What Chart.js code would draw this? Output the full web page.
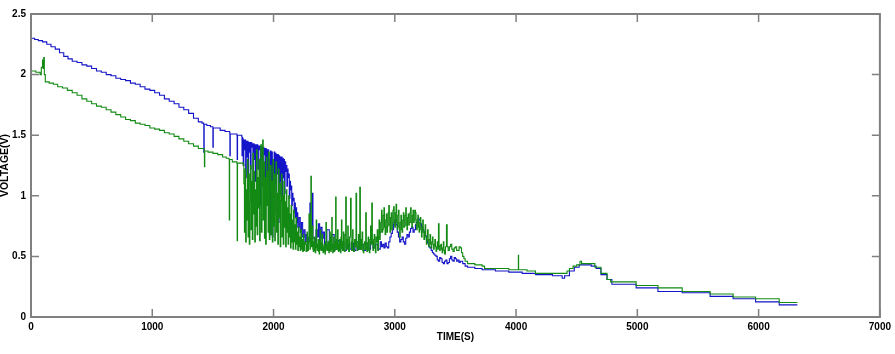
<!DOCTYPE html>
<html><head><meta charset="utf-8">
<script src="https://cdn.jsdelivr.net/npm/chart.js@4.4.1/dist/chart.umd.min.js"></script>
<style>html,body{margin:0;padding:0;background:#fff}</style>
</head><body>
<canvas id="c" width="895" height="354"></canvas>
<script>
const xTicks = [0,1000,2000,3000,4000,5000,6000,7000];
const yTicks = [0,0.5,1,1.5,2,2.5];
const xTitle = 'TIME(S)';
const yTitle = 'VOLTAGE(V)';

// Blue series [time s, voltage V]
const blueSeries = [
[0,2.30],[30,2.29],[60,2.28],[95,2.27],[130,2.25],[165,2.23],[200,2.21],[235,2.18],[270,2.15],[305,2.13],
[340,2.11],[380,2.10],[420,2.08],[460,2.07],[500,2.05],[540,2.03],[580,2.02],[620,2.00],[660,1.99],[700,1.97],
[740,1.96],[780,1.95],[820,1.93],[860,1.92],[900,1.90],[940,1.88],[980,1.87],[1020,1.85],[1060,1.83],[1100,1.80],
[1140,1.78],[1180,1.76],[1220,1.73],[1260,1.71],[1300,1.68],[1340,1.64],[1380,1.61],[1410,1.60],
[1424,1.59],[1425,1.36],[1428,1.59],[1450,1.58],[1480,1.57],[1498,1.57],[1500,1.40],[1503,1.56],[1520,1.56],
[1560,1.54],[1600,1.53],[1638,1.52],[1640,1.33],[1643,1.51],[1660,1.51],[1698,1.50],[1700,1.30],[1703,1.50],
[1720,1.50],[1738,1.49],[1740,1.33],[1743,1.48],
[1745,1.47],[1750,1.25],[1755,1.46],[1760,1.38],[1765,1.46],[1770,1.15],[1775,1.45],[1780,1.32],[1785,1.45],[1790,1.02],
[1795,1.44],[1800,1.36],[1805,1.44],[1810,1.22],[1815,1.44],[1820,1.40],[1825,1.43],[1830,0.96],[1835,1.43],[1840,1.30],
[1845,1.42],[1850,1.12],[1855,1.42],[1860,1.35],[1865,1.42],[1870,1.22],[1875,1.41],[1880,1.38],[1885,1.41],[1890,0.92],
[1895,1.40],[1900,1.30],[1905,1.40],[1910,1.08],[1915,1.40],[1920,1.34],[1925,1.39],[1930,0.82],[1935,1.39],[1940,1.20],
[1945,1.38],[1950,1.02],[1955,1.38],[1960,0.72],[1965,1.30],[1970,0.68],[1975,1.37],[1980,0.75],[1985,1.36],[1990,0.66],
[1995,1.30],[2000,0.88],[2005,1.36],[2010,1.10],[2015,1.35],[2020,0.85],[2025,1.34],[2030,1.18],[2035,1.34],[2040,0.78],
[2045,1.33],[2050,1.00],[2055,1.32],[2060,1.12],[2065,1.32],[2070,0.95],[2075,1.31],[2080,1.15],[2085,1.30],[2090,1.02],
[2095,1.28],[2100,1.20],[2105,1.25],[2110,1.08],[2115,1.22],[2120,1.15],[2125,1.18],[2130,0.98],[2135,1.12],[2140,1.05],
[2145,1.08],[2150,0.92],[2155,1.02],[2160,0.96],[2165,0.98],[2170,0.86],[2175,0.94],[2180,0.82],[2185,0.90],[2190,0.78],
[2195,0.86],[2200,0.74],[2210,0.82],[2220,0.70],[2230,0.78],[2240,0.66],[2250,0.72],[2260,0.62],[2270,0.68],[2280,0.60],
[2290,0.66],[2300,0.94],[2305,0.62],[2320,1.02],[2325,0.65],[2340,0.60],[2350,0.72],[2360,0.66],[2370,0.77],[2380,0.58],
[2390,0.74],[2400,0.65],[2410,0.70],[2420,0.57],[2440,0.72],[2460,0.60],[2480,0.68],[2500,0.56],[2520,0.63],[2540,0.57],
[2560,0.62],[2580,0.55],[2600,0.60],[2620,0.56],[2640,0.61],[2660,0.55],[2680,0.62],[2700,0.56],[2720,0.60],[2740,0.55],
[2760,0.61],[2780,0.56],[2800,0.62],[2820,0.57],[2840,0.60],[2860,0.56],[2880,0.62],[2890,0.58],[2900,0.60],[2910,0.57],
[2920,0.61],[2930,0.58],[2940,0.57],[2950,0.62],[2960,0.66],[2970,0.69],[2980,0.72],[2990,0.77],[3000,0.80],[3010,0.76],
[3020,0.70],[3030,0.66],[3040,0.62],[3050,0.64],[3060,0.66],[3070,0.62],[3080,0.60],[3090,0.65],[3100,0.68],[3110,0.66],
[3120,0.70],[3130,0.73],[3140,0.74],[3150,0.70],[3160,0.72],[3170,0.76],[3180,0.78],[3190,0.81],[3200,0.80],[3210,0.77],
[3220,0.74],[3230,0.72],[3240,0.70],[3250,0.67],[3260,0.64],[3270,0.61],[3280,0.58],[3290,0.57],[3300,0.55],[3310,0.53],
[3320,0.52],[3330,0.51],[3340,0.50],[3350,0.47],[3360,0.46],[3370,0.49],[3380,0.48],[3390,0.45],[3400,0.44],[3410,0.46],
[3420,0.47],[3430,0.44],[3440,0.45],[3450,0.48],[3460,0.50],[3470,0.47],[3480,0.46],[3490,0.49],[3500,0.48],[3510,0.46],
[3520,0.47],[3530,0.45],[3540,0.46],[3560,0.44],[3580,0.42],[3600,0.41],[3660,0.40],[3720,0.39],[3830,0.38],[3940,0.37],
[4050,0.36],[4160,0.35],[4300,0.34],[4380,0.32],[4400,0.34],[4440,0.38],[4480,0.41],[4520,0.43],[4560,0.43],[4620,0.42],
[4660,0.40],[4700,0.35],[4750,0.31],[4790,0.27],[4990,0.24],[5170,0.21],[5370,0.20],[5600,0.17],[5790,0.15],[5975,0.125],
[6170,0.10],[6320,0.10]
];

// Green series [time s, voltage V]
const greenSeries = [
[0,2.03],[40,2.02],[75,2.00],[85,2.06],[95,2.12],[100,2.05],[105,2.14],[110,2.00],[118,1.94],[150,1.93],
[185,1.92],[220,1.90],[260,1.89],[300,1.87],[340,1.85],[380,1.83],[420,1.80],[460,1.78],[500,1.76],[540,1.74],
[580,1.73],[620,1.71],[660,1.69],[700,1.67],[740,1.65],[780,1.63],[820,1.62],[860,1.60],[900,1.59],[940,1.58],
[980,1.56],[1020,1.55],[1060,1.54],[1100,1.52],[1140,1.51],[1180,1.49],[1220,1.47],[1260,1.45],[1300,1.43],[1340,1.41],
[1380,1.39],[1428,1.37],[1430,1.24],[1433,1.37],[1460,1.36],[1500,1.35],[1540,1.34],[1580,1.32],[1610,1.31],
[1633,1.30],[1635,0.80],[1638,1.30],[1660,1.28],[1698,1.27],[1700,0.63],[1703,1.27],[1720,1.27],[1750,1.26],
[1755,1.10],[1760,0.70],[1765,1.22],[1770,0.62],[1775,1.05],[1780,0.80],[1785,1.30],[1790,0.66],[1795,1.18],[1800,0.60],
[1805,0.95],[1810,1.25],[1815,0.72],[1820,1.12],[1825,0.64],[1830,1.35],[1835,0.85],[1840,1.20],[1845,0.62],[1850,1.05],
[1855,0.75],[1860,1.38],[1865,0.68],[1870,1.15],[1875,0.90],[1880,1.30],[1885,0.63],[1890,1.22],[1895,1.42],[1900,0.70],
[1905,1.10],[1910,1.46],[1915,0.80],[1920,1.28],[1925,0.65],[1930,1.15],[1935,0.60],[1940,1.32],[1945,0.92],[1950,1.20],
[1955,0.70],[1960,1.36],[1965,0.64],[1970,1.05],[1975,1.25],[1980,0.68],[1985,1.12],[1990,0.62],[1995,1.30],[2000,0.75],
[2005,1.18],[2010,0.63],[2015,1.08],[2020,1.28],[2025,0.70],[2030,1.02],[2035,0.60],[2040,1.22],[2045,0.82],[2050,1.10],
[2055,0.58],[2060,0.96],[2065,1.18],[2070,0.66],[2075,1.00],[2080,0.60],[2085,1.12],[2090,0.74],[2095,0.95],[2100,0.58],
[2105,1.05],[2110,0.70],[2115,0.90],[2120,0.60],[2125,1.00],[2130,0.66],[2135,0.85],[2140,0.57],[2145,0.92],[2150,0.62],
[2155,0.80],[2160,0.56],[2165,0.88],[2170,0.62],[2175,0.76],[2180,0.56],[2185,0.82],[2190,0.60],[2195,0.70],[2200,0.55],
[2205,0.74],[2210,0.58],[2215,0.66],[2220,0.55],[2225,0.72],[2230,0.56],[2235,0.64],[2240,0.54],[2245,0.68],[2250,0.55],
[2255,0.62],[2264,0.60],[2268,0.54],[2276,0.70],[2280,0.55],[2288,0.62],[2292,0.85],[2300,0.56],[2304,0.64],[2308,1.16],
[2312,0.58],[2316,0.68],[2320,0.75],[2324,0.56],[2328,0.54],[2332,0.62],[2336,0.66],[2340,0.55],[2344,0.53],[2348,0.61],
[2352,0.80],[2356,0.57],[2360,0.55],[2364,0.60],[2368,0.64],[2372,0.54],[2376,0.52],[2380,0.63],[2384,0.72],[2388,0.56],
[2392,0.55],[2396,0.61],[2400,0.68],[2404,0.55],[2408,0.53],[2412,0.58],[2416,0.60],[2420,0.54],[2424,0.52],[2428,0.62],
[2432,0.78],[2436,0.56],[2440,0.55],[2444,0.60],[2448,0.62],[2452,0.55],[2456,0.53],[2460,0.63],[2464,0.70],[2468,0.55],
[2472,0.54],[2476,0.66],[2480,0.82],[2484,0.56],[2488,0.53],[2492,0.60],[2496,0.66],[2500,0.54],[2504,0.55],[2508,0.62],
[2512,0.99],[2516,0.57],[2520,0.56],[2524,0.64],[2528,0.72],[2532,0.55],[2536,0.54],[2540,0.60],[2544,0.64],[2548,0.55],
[2552,0.53],[2556,0.66],[2560,0.80],[2564,0.57],[2568,0.55],[2572,0.62],[2576,0.70],[2580,0.55],[2584,0.54],[2590,0.68],
[2595,0.99],[2600,0.57],[2604,0.56],[2608,0.64],[2612,0.75],[2616,0.56],[2620,0.54],[2626,0.66],[2635,0.98],[2640,0.57],
[2644,0.55],[2648,0.62],[2652,0.72],[2656,0.55],[2660,0.54],[2668,0.64],[2674,0.58],[2680,1.02],[2685,0.58],[2690,0.55],
[2695,0.62],[2700,0.68],[2705,0.56],[2711,1.07],[2716,0.58],[2720,0.56],[2725,0.64],[2730,0.70],[2735,0.55],[2740,0.53],
[2745,0.60],[2750,0.62],[2755,0.56],[2760,0.86],[2765,0.57],[2770,0.54],[2775,0.61],[2780,0.66],[2785,0.55],[2790,0.53],
[2795,0.64],[2800,0.75],[2805,0.60],[2810,0.94],[2815,0.62],[2820,0.55],[2825,0.64],[2830,0.68],[2835,0.57],[2840,0.53],
[2845,0.66],[2850,0.62],[2855,0.72],[2860,0.55],[2865,0.66],[2870,0.80],[2875,0.64],[2880,0.70],[2885,0.78],[2890,0.88],
[2895,0.70],[2900,0.72],[2905,0.84],[2910,0.90],[2915,0.74],[2920,0.68],[2925,0.80],[2930,0.85],[2935,0.70],[2940,0.75],
[2945,0.86],[2950,0.92],[2955,0.76],[2960,0.70],[2965,0.82],[2970,0.86],[2975,0.72],[2980,0.78],[2985,0.88],[2990,0.91],
[2995,0.76],[3000,0.74],[3005,0.86],[3010,0.93],[3015,0.78],[3020,0.72],[3025,0.84],[3030,0.88],[3035,0.74],[3040,0.66],
[3045,0.78],[3050,0.84],[3055,0.72],[3060,0.70],[3065,0.80],[3070,0.86],[3075,0.74],[3080,0.75],[3085,0.84],[3090,0.90],
[3095,0.76],[3100,0.72],[3105,0.82],[3110,0.85],[3115,0.76],[3120,0.78],[3125,0.86],[3130,0.90],[3135,0.78],[3140,0.74],
[3145,0.84],[3150,0.88],[3155,0.78],[3160,0.80],[3165,0.88],[3170,0.86],[3175,0.76],[3180,0.72],[3185,0.80],[3190,0.84],
[3195,0.74],[3200,0.70],[3205,0.78],[3210,0.82],[3215,0.72],[3220,0.66],[3225,0.74],[3230,0.80],[3235,0.70],[3240,0.64],
[3245,0.70],[3250,0.76],[3255,0.66],[3260,0.60],[3265,0.66],[3270,0.72],[3275,0.63],[3280,0.58],[3285,0.64],[3290,0.68],
[3295,0.60],[3300,0.57],[3305,0.62],[3310,0.66],[3315,0.60],[3320,0.56],[3325,0.60],[3330,0.64],[3335,0.58],[3340,0.54],
[3345,0.58],[3350,0.62],[3355,0.56],[3360,0.77],[3365,0.58],[3370,0.55],[3375,0.59],[3380,0.60],[3385,0.56],[3390,0.53],
[3395,0.57],[3400,0.62],[3405,0.55],[3410,0.52],[3418,0.58],[3426,0.76],[3432,0.58],[3440,0.55],[3450,0.58],[3460,0.60],
[3470,0.56],[3480,0.54],[3490,0.57],[3500,0.58],[3510,0.55],[3520,0.55],[3530,0.58],[3540,0.57],[3550,0.53],[3560,0.50],
[3570,0.48],[3580,0.46],[3600,0.44],[3660,0.43],[3720,0.42],[3740,0.40],[3840,0.40],[3940,0.39],[4018,0.39],[4019,0.51],
[4021,0.39],[4090,0.38],[4160,0.36],[4270,0.36],[4380,0.36],[4420,0.38],[4440,0.40],[4470,0.42],[4500,0.43],[4527,0.46],
[4540,0.44],[4580,0.44],[4620,0.44],[4650,0.41],[4700,0.36],[4750,0.31],[4780,0.29],[4990,0.26],[5170,0.24],[5370,0.21],
[5600,0.19],[5790,0.165],[5975,0.15],[6170,0.12],[6320,0.12]
];

const toXY = a => a.map(p => ({x:p[0], y:p[1]}));

const boxPlugin = {
  id:'box',
  afterDraw(chart){
    const {ctx, chartArea:a, scales} = chart;
    ctx.save();
    ctx.strokeStyle = '#808080';
    ctx.lineWidth = 2;
    ctx.strokeRect(a.left, a.top, a.right-a.left, a.bottom-a.top);
    ctx.lineWidth = 1.5;
    const L = 8;
    ctx.beginPath();
    xTicks.forEach(v => {
      const x = scales.x.getPixelForValue(v);
      ctx.moveTo(x, a.bottom); ctx.lineTo(x, a.bottom-L);
      ctx.moveTo(x, a.top); ctx.lineTo(x, a.top+L);
    });
    yTicks.forEach(v => {
      const y = scales.y.getPixelForValue(v);
      ctx.moveTo(a.left, y); ctx.lineTo(a.left+L, y);
      ctx.moveTo(a.right, y); ctx.lineTo(a.right-L, y);
    });
    ctx.stroke();
    ctx.restore();
  }
};

new Chart(document.getElementById('c'), {
  type:'line',
  data:{datasets:[
    {label:'green', data:toXY(greenSeries), borderColor:'#138a13', borderWidth:1.1, pointRadius:0, stepped:true, order:0},
    {label:'blue', data:toXY(blueSeries), borderColor:'#1414c8', borderWidth:1.1, pointRadius:0, stepped:true, order:1}
  ]},
  plugins:[boxPlugin],
  options:{
    responsive:false, animation:false, devicePixelRatio:1,
    layout:{padding:{top:14, right:12, left:0, bottom:0}},
    plugins:{legend:{display:false}, tooltip:{enabled:false}},
    scales:{
      x:{type:'linear', min:0, max:7000,
        afterBuildTicks: s => { s.ticks = xTicks.map(v => ({value:v})); },
        afterFit: s => { s.height = 37; },
        grid:{display:false, drawTicks:false},
        border:{display:false},
        ticks:{color:'#000', padding:4, maxRotation:0, autoSkip:false, callback: v => String(v),
          font:{family:'Liberation Sans', size:10, weight:'bold'}},
        title:{display:true, text:xTitle, color:'#000', padding:{top:0,bottom:11}, font:{family:'Liberation Sans', size:10, weight:'bold'}}
      },
      y:{type:'linear', min:0, max:2.5,
        afterBuildTicks: s => { s.ticks = yTicks.map(v => ({value:v})); },
        afterFit: s => { s.width = 31; },
        grid:{display:false, drawTicks:false},
        border:{display:false},
        ticks:{color:'#000', padding:5, autoSkip:false, callback: v => String(v),
          font:{family:'Liberation Sans', size:10, weight:'bold'}},
        title:{display:true, text:yTitle, color:'#000', padding:{top:0,bottom:0}, font:{family:'Liberation Sans', size:10.5, weight:'bold', lineHeight:0.9}}
      }
    }
  }
});
</script>
</body></html>
